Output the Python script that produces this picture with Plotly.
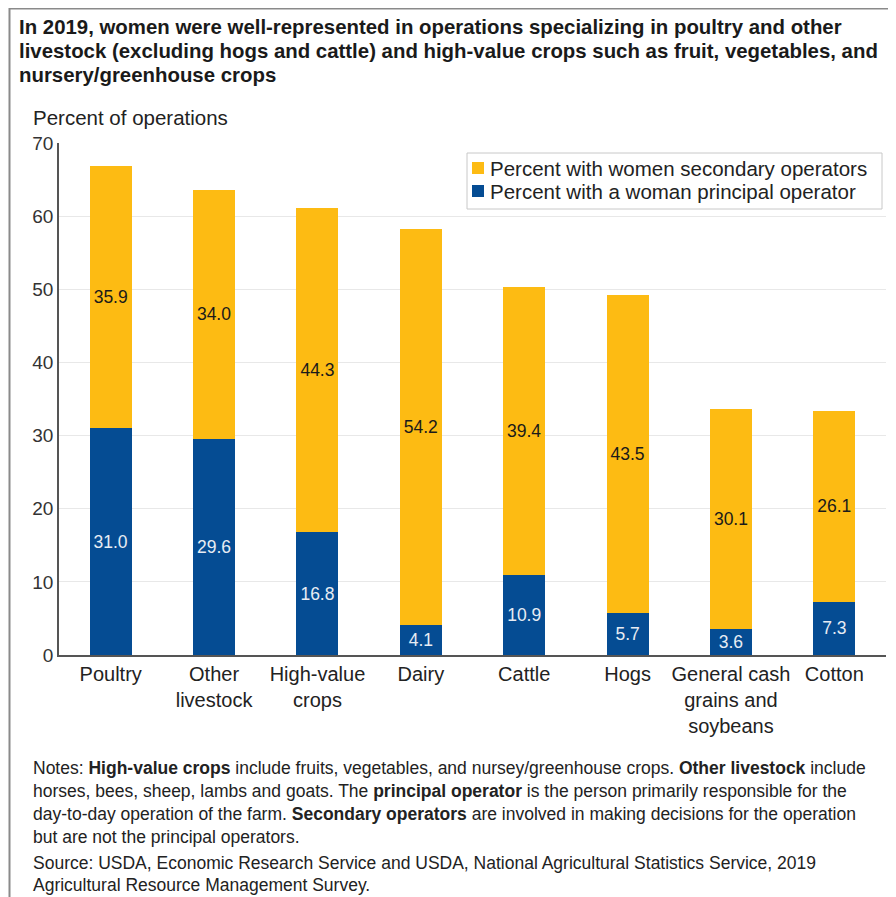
import plotly.graph_objects as go

categories = ["Poultry", "Other<br>livestock", "High-value<br>crops", "Dairy", "Cattle",
              "Hogs", "General cash<br>grains and<br>soybeans", "Cotton"]
principal = [31.0, 29.6, 16.8, 4.1, 10.9, 5.7, 3.6, 7.3]
secondary = [35.9, 34.0, 44.3, 54.2, 39.4, 43.5, 30.1, 26.1]
series_names = ["Percent with a woman principal operator", "Percent with women secondary operators"]

title_lines = [
    "In 2019, women were well-represented in operations specializing in poultry and other",
    "livestock (excluding hogs and cattle) and high-value crops such as fruit, vegetables, and",
    "nursery/greenhouse crops",
]
note_lines = [
    "Notes: <b>High-value crops</b> include fruits, vegetables, and nursey/greenhouse crops. <b>Other livestock</b> include",
    "horses, bees, sheep, lambs and goats. The <b>principal operator</b> is the person primarily responsible for the",
    "day-to-day operation of the farm. <b>Secondary operators</b> are involved in making decisions for the operation",
    "but are not the principal operators.",
]
source_lines = [
    "Source: USDA, Economic Research Service and USDA, National Agricultural Statistics Service, 2019",
    "Agricultural Resource Management Survey.",
]

# page body adds an 8px offset; figure drawn 8px smaller
OFF = 8
W, H = 896 - OFF, 897 - OFF
L, R, T, B = 59, 886, 143, 655  # plot area in reference-page pixels
FONT = "Liberation Sans, Arial, sans-serif"

def px(x):
    return (x - L) / (R - L)

def py(y):
    return (B - y) / (B - T)

YELLOW = "#FDBB13"
BLUE = "#054C93"

fig = go.Figure()
fig.add_trace(go.Bar(
    x=categories, y=principal, name=series_names[0],
    marker=dict(color=BLUE, line=dict(width=0)),
    text=[f"{v:.1f}" for v in principal], textposition="inside", insidetextanchor="middle",
    textfont=dict(color="#E8ECF4", size=17.5, family=FONT), constraintext="none",
    showlegend=False,
))
fig.add_trace(go.Bar(
    x=categories, y=secondary, name=series_names[1],
    marker=dict(color=YELLOW, line=dict(width=0)),
    text=[f"{v:.1f}" for v in secondary], textposition="inside", insidetextanchor="middle",
    textfont=dict(color="#1a1a1a", size=17.5, family=FONT), constraintext="none",
    showlegend=False,
))

annotations = []
for i, t in enumerate(title_lines):
    annotations.append(dict(text=f"<b>{t}</b>", x=px(17), y=py(27 + 24 * i), xref="paper", yref="paper",
                            xanchor="left", yanchor="middle", showarrow=False,
                            font=dict(size=20.4, color="#1a1a1a", family=FONT)))
annotations.append(dict(text="Percent of operations", x=px(31), y=py(117), xref="paper", yref="paper",
                        xanchor="left", yanchor="middle", showarrow=False,
                        font=dict(size=20.5, color="#222", family=FONT)))
for i, t in enumerate(note_lines):
    annotations.append(dict(text=t, x=px(31), y=py(768 + 23 * i), xref="paper", yref="paper",
                            xanchor="left", yanchor="middle", showarrow=False,
                            font=dict(size=17.5, color="#222", family=FONT)))
for i, t in enumerate(source_lines):
    annotations.append(dict(text=t, x=px(31), y=py(863 + 22 * i), xref="paper", yref="paper",
                            xanchor="left", yanchor="middle", showarrow=False,
                            font=dict(size=17.5, color="#222", family=FONT)))

# legend (drawn manually to match compact swatch spacing)
legend_rows = [(series_names[1], YELLOW, 168), (series_names[0], BLUE, 191)]
shapes = [
    dict(type="rect", xref="paper", yref="paper", x0=px(467), x1=px(882), y0=py(153), y1=py(209),
         line=dict(color="#c8c8c8", width=1), fillcolor="white", layer="above"),
]
for name, color, yc in legend_rows:
    shapes.append(dict(type="rect", xref="paper", yref="paper", x0=px(472), x1=px(484),
                       y0=py(yc + 6), y1=py(yc - 6), line=dict(width=0), fillcolor=color, layer="above"))
    annotations.append(dict(text=name, x=px(488), y=py(yc), xref="paper", yref="paper",
                            xanchor="left", yanchor="middle", showarrow=False,
                            font=dict(size=20.5, color="#222", family=FONT)))

shapes += [
    dict(type="line", xref="paper", yref="paper", x0=px(9), x1=px(900), y0=py(8.5), y1=py(8.5),
         line=dict(color="#8a8a8a", width=2)),
    dict(type="line", xref="paper", yref="paper", x0=px(9.5), x1=px(9.5), y0=py(8), y1=py(900),
         line=dict(color="#8a8a8a", width=2)),
]

fig.update_layout(
    width=W, height=H,
    margin=dict(l=L - OFF, r=(W + OFF) - R, t=T - OFF, b=(H + OFF) - B, pad=0),
    paper_bgcolor="white", plot_bgcolor="white",
    barmode="stack", bargap=0.594,
    font=dict(family=FONT, color="#222"),
    showlegend=False,
    annotations=annotations,
    shapes=shapes,
)
fig.update_xaxes(showline=True, linecolor="#555", linewidth=1.5, ticks="", showgrid=False,
                 tickangle=0, tickfont=dict(size=20, color="#222", family=FONT))
fig.update_yaxes(range=[0, 70], dtick=10, showline=True, linecolor="#555", linewidth=1.5,
                 showgrid=True, gridcolor="#e8e8e8", gridwidth=1, zeroline=False, ticks="",
                 tickfont=dict(size=19, color="#333", family=FONT))

fig.write_html("out.html")
